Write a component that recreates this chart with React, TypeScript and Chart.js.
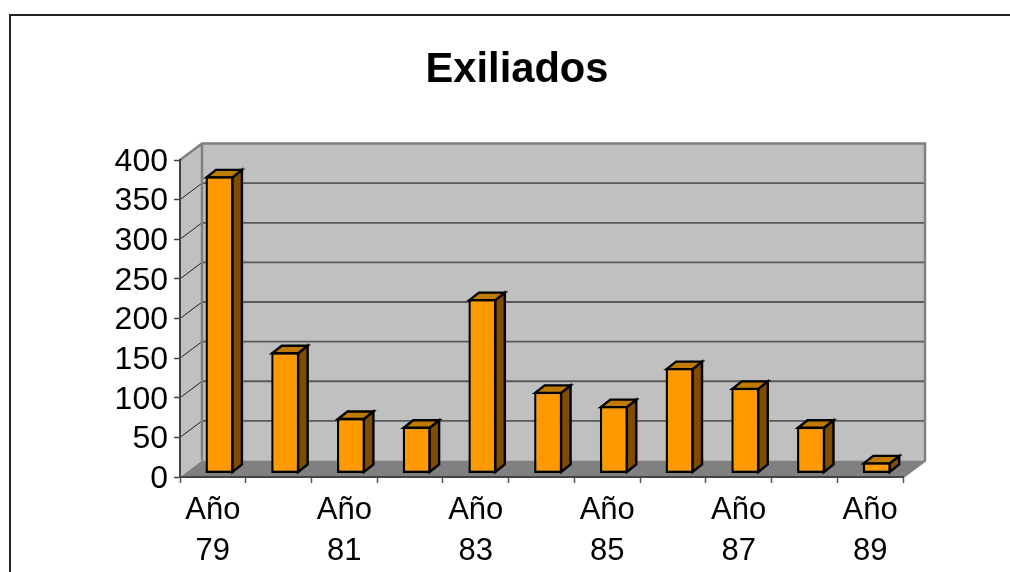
import React, { useEffect, useRef } from "react";
import { Chart, registerables } from "chart.js";

Chart.register(...registerables);

const FONT = '"Liberation Sans", Arial, sans-serif';
const categories = ["Año 79", "Año 80", "Año 81", "Año 82", "Año 83", "Año 84", "Año 85", "Año 86", "Año 87", "Año 88", "Año 89"];
const exiliados = [375, 153, 70, 59, 220, 103, 85, 133, 108, 59, 14];
const chartTitle = "Exiliados";

const WALL = { dx: 22, dy: -16.5 };
const BAR = { dx: 9.5, dy: -7.5, shiftX: 6.6, shiftY: -3.5 };

const box3d = {
  id: "box3d",
  afterLayout(chart: any) {
    // widen the label clip so the long y tick labels are not cut off
    chart.scales.y.left = 60;
  },
  beforeDraw(chart: any) {
    const { ctx, chartArea: a, scales } = chart;
    const { dx, dy } = WALL;
    ctx.save();
    // outer frame, running off the page to the right and below
    ctx.strokeStyle = "#222";
    ctx.lineWidth = 2;
    ctx.beginPath();
    ctx.moveTo(10, 600);
    ctx.lineTo(10, 15);
    ctx.lineTo(1040, 15);
    ctx.stroke();
    // side wall
    ctx.fillStyle = "#c0c0c0";
    ctx.beginPath();
    ctx.moveTo(a.left, a.top);
    ctx.lineTo(a.left + dx, a.top + dy);
    ctx.lineTo(a.left + dx, a.bottom + dy);
    ctx.lineTo(a.left, a.bottom);
    ctx.closePath();
    ctx.fill();
    // back wall
    ctx.fillRect(a.left + dx, a.top + dy, a.width, a.height);
    // floor
    ctx.fillStyle = "#808080";
    ctx.beginPath();
    ctx.moveTo(a.left, a.bottom);
    ctx.lineTo(a.left + dx, a.bottom + dy);
    ctx.lineTo(a.right + dx, a.bottom + dy);
    ctx.lineTo(a.right, a.bottom);
    ctx.closePath();
    ctx.fill();
    // gridlines from the library's own ticks
    const y = scales.y;
    y.ticks.forEach((t: any) => {
      const py = y.getPixelForValue(t.value);
      if (t.value > 0 && t.value < 400) {
        ctx.strokeStyle = "#5a5a5a";
        ctx.lineWidth = 1.8;
        ctx.beginPath();
        ctx.moveTo(a.left + dx, py + dy);
        ctx.lineTo(a.right + dx, py + dy);
        ctx.stroke();
        ctx.strokeStyle = "#222";
        ctx.lineWidth = 1;
        ctx.beginPath();
        ctx.moveTo(a.left, py);
        ctx.lineTo(a.left + dx, py + dy);
        ctx.stroke();
      }
    });
    // wall edges
    ctx.strokeStyle = "#808080";
    ctx.lineWidth = 2.5;
    ctx.beginPath();
    ctx.moveTo(a.left, a.top);
    ctx.lineTo(a.left + dx, a.top + dy);
    ctx.lineTo(a.right + dx, a.top + dy);
    ctx.lineTo(a.right + dx, a.bottom + dy);
    ctx.lineTo(a.right, a.bottom);
    ctx.moveTo(a.left + dx, a.top + dy);
    ctx.lineTo(a.left + dx, a.bottom + dy);
    ctx.stroke();
    ctx.restore();
  },
  beforeDatasetsDraw(chart: any) {
    const { ctx } = chart;
    const { dx, dy, shiftX, shiftY } = BAR;
    ctx.save();
    ctx.translate(shiftX, shiftY);
    chart.getDatasetMeta(0).data.forEach((bar: any) => {
      const l = bar.x - bar.width / 2;
      const r = bar.x + bar.width / 2;
      const t = bar.y + 1;
      const b = bar.base - 1;
      ctx.lineWidth = 2.4;
      ctx.strokeStyle = "#000";
      ctx.lineJoin = "miter";
      ctx.fillStyle = "#7f4d00";
      ctx.beginPath();
      ctx.moveTo(r - 1, t);
      ctx.lineTo(r - 1 + dx, t + dy);
      ctx.lineTo(r - 1 + dx, b + dy);
      ctx.lineTo(r - 1, b);
      ctx.closePath();
      ctx.fill();
      ctx.stroke();
      ctx.fillStyle = "#bf7a00";
      ctx.beginPath();
      ctx.moveTo(l + 1, t);
      ctx.lineTo(l + 1 + dx, t + dy);
      ctx.lineTo(r - 1 + dx, t + dy);
      ctx.lineTo(r - 1, t);
      ctx.closePath();
      ctx.fill();
      ctx.stroke();
    });
  },
  afterDatasetsDraw(chart: any) {
    chart.ctx.restore();
  },
};

export default function App() {
  const ref = useRef<HTMLCanvasElement>(null);
  useEffect(() => {
    const chart = new Chart(ref.current as HTMLCanvasElement, {
      type: "bar",
      data: {
        labels: categories,
        datasets: [
          {
            label: chartTitle,
            data: exiliados,
            backgroundColor: "#ff9900",
            borderColor: "#000",
            borderWidth: 2.4,
            borderSkipped: false,
            barPercentage: 0.425,
            categoryPercentage: 1,
            clip: false,
          } as any,
        ],
      },
      plugins: [box3d],
      options: {
        responsive: false,
        animation: false,
        devicePixelRatio: 1,
        layout: { padding: { left: 131, right: 107, top: 0, bottom: 0 } },
        plugins: {
          legend: { display: false },
          tooltip: { enabled: false },
          title: {
            display: true,
            text: chartTitle,
            color: "#000",
            font: { family: FONT, size: 41.7, weight: "bold", lineHeight: 1.2 },
            padding: { top: 45, bottom: 65 },
          },
        },
        scales: {
          x: {
            afterFit(s: any) {
              s.height = 95;
            },
            grid: { drawOnChartArea: false, drawTicks: true, tickLength: 6, tickColor: "#555", tickWidth: 1.5 },
            border: { color: "#444", width: 2 },
            ticks: {
              autoSkip: false,
              maxRotation: 0,
              minRotation: 0,
              padding: 7,
              color: "#000",
              font: { family: FONT, size: 31, lineHeight: 1.32 },
              callback(_v: any, i: number) {
                return i % 2 === 0 ? categories[i].split(" ") : "";
              },
            },
          },
          y: {
            min: 0,
            max: 400,
            afterFit(s: any) {
              s.width = 49;
            },
            grid: { drawOnChartArea: false, drawTicks: true, tickLength: 6, tickColor: "#444", tickWidth: 1.5 },
            border: { color: "#444", width: 2 },
            ticks: {
              autoSkip: false,
              stepSize: 50,
              padding: 6,
              labelOffset: 2,
              color: "#000",
              font: { family: FONT, size: 32 },
            },
          },
        },
      } as any,
    });
    return () => chart.destroy();
  }, []);
  return (
    <canvas
      ref={ref}
      width={1010}
      height={572}
      style={{ position: "absolute", top: 0, left: 0, display: "block" }}
    />
  );
}
